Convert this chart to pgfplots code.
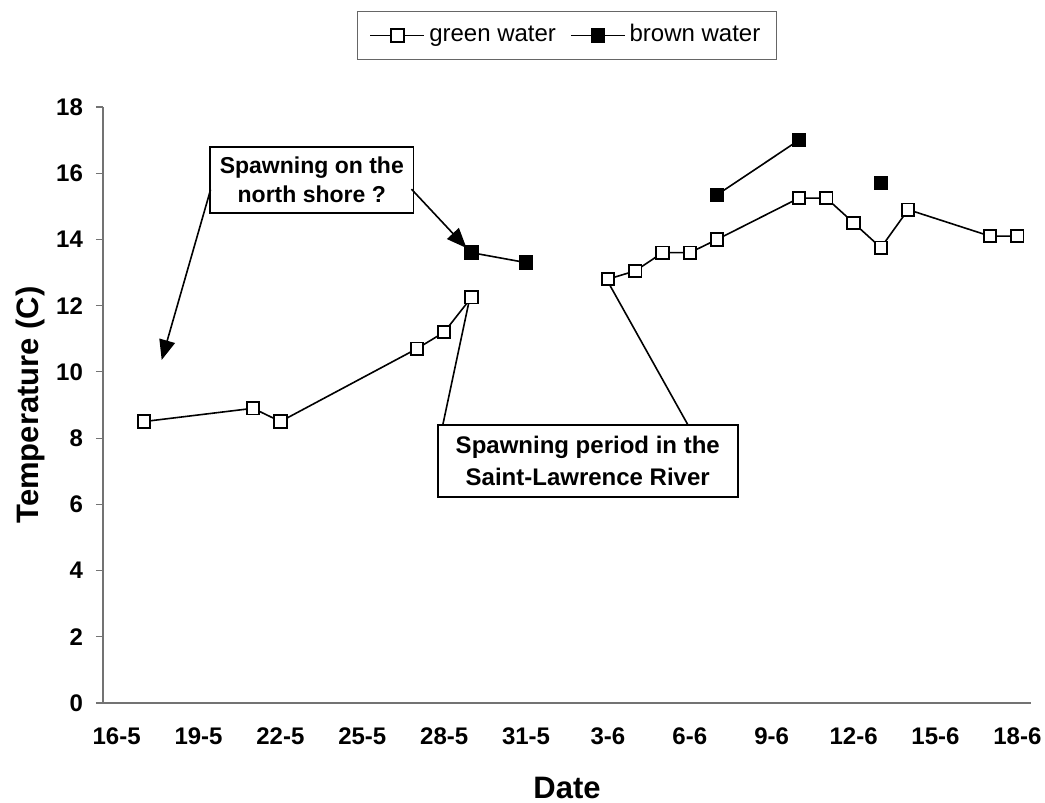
\documentclass[border=0pt]{standalone}
\usepackage{pgfplots}
\pgfplotsset{compat=1.18}
\usepackage{fontspec}
\setmainfont{Liberation Sans}
\usetikzlibrary{arrows.meta}
\begin{document}
\begin{tikzpicture}
\begin{axis}[
  scale only axis,
  width=464pt, height=298pt,
  xmin=-0.5, xmax=33.5,
  ymin=0, ymax=18,
  axis lines*=left,
  axis line style={black!55, line width=0.6pt},
  tick align=outside,
  major tick length=3.5pt,
  minor tick length=3.5pt,
  xtick={0,3,...,33},
  xticklabels={16-5,19-5,22-5,25-5,28-5,31-5,3-6,6-6,9-6,12-6,15-6,18-6},
  minor xtick={-0.5,2.5,...,32.5},
  xtick style={draw=none},
  minor x tick style={black!55, line width=0.6pt},
  ytick={0,2,...,18},
  y tick style={black!55, line width=0.6pt},
  /pgf/number format/assume math mode=true,
  ticklabel style={font=\fontsize{12}{14}\selectfont\bfseries},
  xticklabel shift=5.5pt,
  yticklabel shift=3pt,
  xlabel={Date},
  ylabel={Temperature (C)},
  label style={font=\fontsize{15.5}{18}\selectfont\bfseries},
  xlabel style={at={(rel axis cs:0.5,0)}, anchor=center, yshift=-42.5pt},
  ylabel style={at={(rel axis cs:0,0.5)}, anchor=center, yshift=36.5pt},
  unbounded coords=jump,
  clip=false,
  legend columns=2,
  legend style={at={(0.5,1.12)}, anchor=center, draw=black!60, line width=0.6pt,
    font=\fontsize{12}{14}\selectfont, inner xsep=6pt, inner ysep=4.5pt,
    nodes={text height=1.6ex, text depth=0.45ex},
    /tikz/every even column/.append style={column sep=5pt}},
  legend image code/.code={\draw[mark repeat=2,mark phase=2] plot coordinates {(0pt,0pt) (13.5pt,0pt) (27pt,0pt)};},
]
\addplot[black, line width=0.8pt, mark=square*, mark size=3.1pt, mark options={fill=white, line width=0.9pt}]
coordinates {
(1,8.5) (5,8.9) (6,8.5) (11,10.7) (12,11.2) (13,12.25) (15,nan)
(18,12.8) (19,13.05) (20,13.6) (21,13.6) (22,14.0) (25,15.25) (26,15.25)
(27,14.5) (28,13.75) (29,14.9) (32,14.1) (33,14.1)
};
\addlegendentry{green water}
\addplot[black, line width=0.8pt, mark=square*, mark size=3.2pt, mark options={fill=black}]
coordinates {
(13,13.6) (15,13.3) (18,nan) (22,15.35) (25,17.0) (26,nan) (28,15.7)
};
\addlegendentry{brown water}
\coordinate (o) at (rel axis cs:0,0);
% annotation 1
\node[draw=black, line width=0.8pt, fill=white, align=center, minimum width=101.5pt, minimum height=33pt, inner sep=1pt,
  font=\fontsize{11.5}{14.5}\selectfont\bfseries] at (axis cs:7.15,15.79) {Spawning on the\\north shore ?};
\draw[line width=0.8pt, -{Triangle[length=10pt,width=8pt]}] (axis cs:3.44,15.5) -- (axis cs:1.65,10.36);
\draw[line width=0.8pt, -{Triangle[length=10pt,width=8pt]}] (axis cs:10.8,15.52) -- (axis cs:12.82,13.74);
% annotation 2
\draw[line width=0.8pt] (axis cs:11.95,8.4) -- (axis cs:12.94,12.24);
\draw[line width=0.8pt] (axis cs:20.93,8.4) -- (axis cs:17.96,12.78);
\node[draw=black, line width=0.8pt, fill=white, align=center, minimum width=150pt, minimum height=36pt, inner sep=1pt,
  font=\fontsize{12}{16}\selectfont\bfseries] at (axis cs:17.26,7.31) {Spawning period in the\\Saint-Lawrence River};
\end{axis}
\pgfresetboundingbox
\path[use as bounding box] ([shift={(-51.5pt,-50pt)}]o) rectangle ([shift={(471pt,351.5pt)}]o);
\end{tikzpicture}
\end{document}
